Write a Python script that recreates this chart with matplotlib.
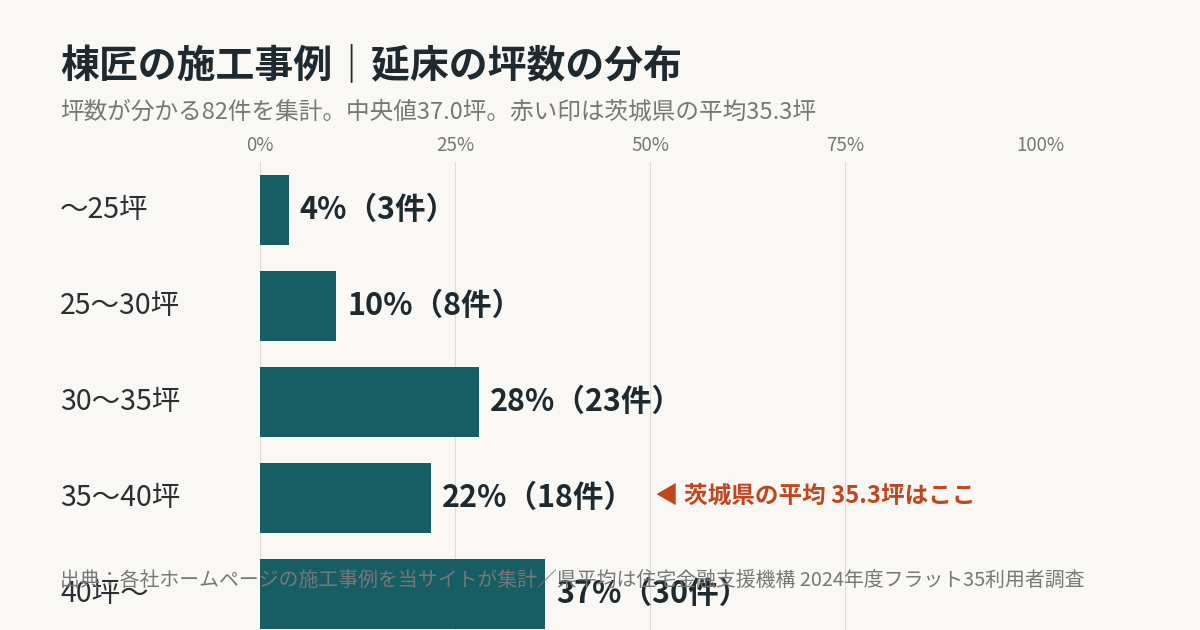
import matplotlib
matplotlib.use("Agg")
import matplotlib.pyplot as plt

plt.rcParams['font.family'] = ['Noto Sans CJK JP', 'DejaVu Sans']

categories = ["〜25坪", "25〜30坪", "30〜35坪", "35〜40坪", "40坪〜"]
counts = [3, 8, 23, 18, 30]
total = 82
pct = [c / total * 100 for c in counts]
ticks = [0, 25, 50, 75, 100]
tick_labels = ["0%", "25%", "50%", "75%", "100%"]

bg = "#F9F8F5"
bar_c = "#165E63"
fig = plt.figure(figsize=(12, 6.3), dpi=100, facecolor=bg)
W, H = 1200, 630
ax = fig.add_axes([260 / W, 0, 780 / W, (630 - 162) / H])
ax.set_facecolor(bg)
ax.set_xlim(0, 100)
ax.set_ylim(4.375, -0.5)
for s in ax.spines.values():
    s.set_visible(False)
ax.set_yticks([])
ax.set_xticks(ticks)
ax.set_xticklabels(tick_labels, color="#777777", fontsize=13.5)
ax.xaxis.tick_top()
ax.tick_params(axis='x', length=0, pad=4)
for t in ticks:
    ax.axvline(t, color="#DDDBD6", lw=0.8, zorder=0)
ax.barh(range(len(categories)), pct, height=0.73, color=bar_c, zorder=2)
for i, (p, c) in enumerate(zip(pct, counts)):
    ax.text(p + 1.4, i, f"{round(p)}%（{c}件）", va='center', ha='left',
            fontsize=22, fontweight='bold', color="#1F2A30", zorder=3)
    fig.text(60 / W, 1 - (210 + 96 * i) / H, categories[i], va='center', ha='left',
             fontsize=20.5, color="#2A2F33")

fig.text(60 / W, 1 - 66 / H, "棟匠の施工事例｜延床の坪数の分布", fontsize=28,
         fontweight='bold', color="#1F2A30", va='center')
fig.text(60 / W, 1 - 112 / H, "坪数が分かる82件を集計。中央値37.0坪。赤い印は茨城県の平均35.3坪",
         fontsize=17, color="#777777", va='center')
fig.text(655 / W, 1 - 496 / H, "◀ 茨城県の平均 35.3坪はここ", fontsize=17,
         fontweight='bold', color="#C0461E", va='center')
fig.text(60 / W, 1 - 580 / H,
         "出典：各社ホームページの施工事例を当サイトが集計／県平均は住宅金融支援機構 2024年度フラット35利用者調査",
         fontsize=14.3, color="#777777", va='center', zorder=5)
fig.savefig("out.png", dpi=100, facecolor=bg)
